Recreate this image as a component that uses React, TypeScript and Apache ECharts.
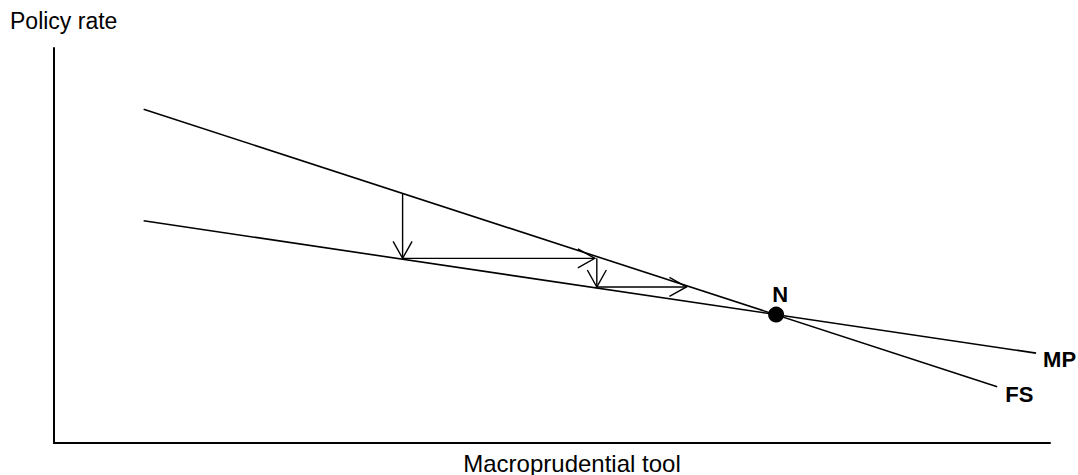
import React, { useEffect, useRef } from "react";
import * as echarts from "echarts";

// Curves (x = macroprudential tool, y = policy rate)
const fsLine: number[][] = [
  [9, 33.8],
  [94.7, 5.7],
];
const mpLine: number[][] = [
  [9, 22.5],
  [98.6, 9.1],
];
const equilibrium: number[][] = [[72.5, 13]];
// Cobweb adjustment arrows: [x1, y1, x2, y2]
const arrows: number[][] = [
  [35, 25.3, 35, 18.7],
  [35, 18.7, 54.3, 18.7],
  [54.5, 18.7, 54.5, 15.8],
  [54.5, 15.8, 63.5, 15.8],
];
const xAxisTitle = "Macroprudential tool";
const yAxisTitle = "Policy rate";

export default function App() {
  const ref = useRef<HTMLDivElement>(null);
  useEffect(() => {
    if (!ref.current) return;
    const chart = echarts.init(ref.current, null, { renderer: "svg" });
    const font = "'Liberation Sans', Arial, sans-serif";
    chart.setOption({
      animation: false,
      backgroundColor: "#ffffff",
      grid: { left: 54, right: 28, top: 48, bottom: 32 },
      xAxis: {
        type: "value",
        min: 0,
        max: 100,
        axisLine: { show: true, onZero: false, lineStyle: { color: "#000", width: 2 } },
        axisTick: { show: false },
        axisLabel: { show: false },
        splitLine: { show: false },
      },
      yAxis: {
        type: "value",
        min: 0,
        max: 40,
        axisLine: { show: true, onZero: false, lineStyle: { color: "#000", width: 2 } },
        axisTick: { show: false },
        axisLabel: { show: false },
        splitLine: { show: false },
      },
      graphic: [
        {
          type: "text",
          x: 10,
          y: 21,
          style: {
            text: yAxisTitle,
            font: `23px ${font}`,
            fill: "#000",
            align: "left",
            verticalAlign: "middle",
          },
        },
        {
          type: "text",
          x: 572,
          y: 463,
          style: {
            text: xAxisTitle,
            font: `24px ${font}`,
            fill: "#000",
            align: "center",
            verticalAlign: "middle",
          },
        },
      ],
      series: [
        {
          type: "line",
          name: "FS",
          data: fsLine,
          showSymbol: false,
          symbol: "none",
          lineStyle: { color: "#000", width: 1.6 },
          endLabel: {
            show: true,
            formatter: "FS",
            distance: 8,
            offset: [0, 8],
            color: "#000",
            fontWeight: "bold",
            fontSize: 22,
            fontFamily: font,
          },
          z: 2,
        },
        {
          type: "line",
          name: "MP",
          data: mpLine,
          showSymbol: false,
          symbol: "none",
          lineStyle: { color: "#000", width: 1.6 },
          endLabel: {
            show: true,
            formatter: "MP",
            distance: 7,
            offset: [0, 6],
            color: "#000",
            fontWeight: "bold",
            fontSize: 22,
            fontFamily: font,
          },
          z: 2,
        },
        {
          type: "custom",
          name: "adjustment",
          data: arrows,
          renderItem: (params: any, api: any) => {
            const p1 = api.coord([api.value(0), api.value(1)]);
            const p2 = api.coord([api.value(2), api.value(3)]);
            const dx = p2[0] - p1[0];
            const dy = p2[1] - p1[1];
            const len = Math.sqrt(dx * dx + dy * dy) || 1;
            const ux = dx / len;
            const uy = dy / len;
            const hl = 17;
            const hw = 9.5;
            const bx = p2[0] - ux * hl;
            const by = p2[1] - uy * hl;
            const a = [bx - uy * hw, by + ux * hw];
            const b = [bx + uy * hw, by - ux * hw];
            const st = { stroke: "#000", lineWidth: 1.4, fill: null };
            return {
              type: "group",
              children: [
                {
                  type: "line",
                  shape: { x1: p1[0], y1: p1[1], x2: p2[0], y2: p2[1] },
                  style: st,
                },
                {
                  type: "polyline",
                  shape: { points: [a, p2, b] },
                  style: st,
                },
              ],
            };
          },
          z: 3,
        },
        {
          type: "scatter",
          name: "N",
          data: equilibrium,
          symbol: "circle",
          symbolSize: 16,
          itemStyle: { color: "#000", opacity: 1 },
          label: {
            show: true,
            formatter: "N",
            position: "top",
            distance: 1,
            offset: [4, 0],
            color: "#000",
            fontWeight: "bold",
            fontSize: 22,
            fontFamily: font,
          },
          z: 4,
        },
      ],
    });
    return () => chart.dispose();
  }, []);
  return (
    <div
      ref={ref}
      style={{ position: "absolute", left: 0, top: 0, width: 1078, height: 475 }}
    />
  );
}
